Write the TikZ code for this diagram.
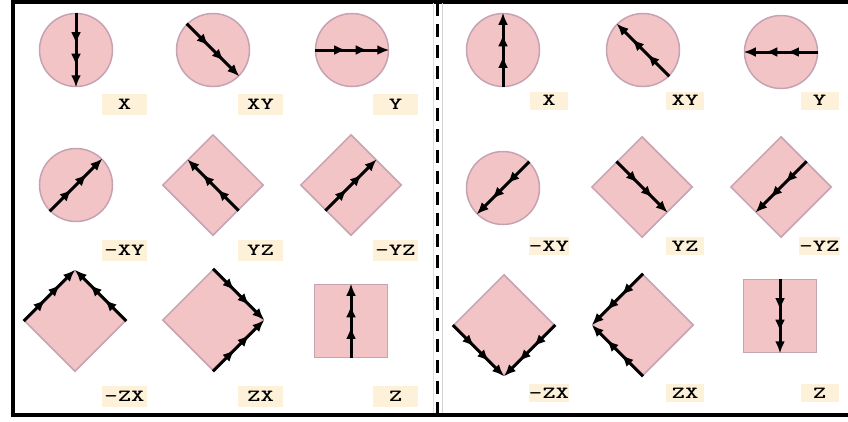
\documentclass[tikz,border=0pt]{standalone}
\usepackage{graphicx}
\usetikzlibrary{shapes.geometric,arrows.meta,decorations.markings}
\definecolor{shapefill}{RGB}{242,196,198}
\definecolor{shapeedge}{RGB}{198,162,178}
\definecolor{tagfill}{RGB}{253,241,217}
\newcommand\tagtext[1]{\scalebox{1.5}[1]{\ttfamily\bfseries #1}}

\begin{document}
\begin{tikzpicture}[x=1pt, y=-1pt]
  \tikzset{
    round_node/.style={circle, fill=shapefill, draw=shapeedge, line width=1.5pt, inner sep=0pt, minimum size=73pt},
    diamond_node/.style={diamond, fill=shapefill, draw=shapeedge, line width=1.5pt, inner sep=0pt, minimum width=101pt, minimum height=101pt},
    square_node/.style={rectangle, fill=shapefill, draw=shapeedge, line width=1.5pt, inner sep=0pt, minimum size=73pt},
    tag_node/.style={fill=tagfill, inner sep=0pt, minimum width=45pt, minimum height=21pt, font=\fontsize{17}{17}\selectfont},
    tag_small/.style={tag_node, minimum width=38pt, minimum height=18pt},
    flow/.style={line width=3pt, -{Latex[length=12pt,width=10pt]},
      decoration={markings,
        mark=at position 0.42 with {\arrow{Latex[length=12pt,width=10pt]}},
        mark=at position 0.71 with {\arrow{Latex[length=12pt,width=10pt]}}},
      postaction={decorate}}
  }

  \useasboundingbox (0,0) rectangle (848,421);

  % Marco y separador
  \draw[line width=4pt] (848,1.5) -- (12.5,1.5) -- (12.5,415) -- (848,415);
  \draw[pink!70, line width=0.8pt] (433,3) -- (433,413);
  \draw[gray!35, line width=1pt] (442,3) -- (442,413);
  \draw[line width=3pt, dash pattern=on 13pt off 8pt] (437,3) -- (437,413);

  % Panel izquierdo
  \node[round_node] (xL) at (76,50) {};
  \node[round_node] (xyL) at (213,50) {};
  \node[round_node] (yL) at (352,50) {};
  \node[round_node] (mxyL) at (76,185) {};
  \node[diamond_node] (yzL) at (213,185) {};
  \node[diamond_node] (myzL) at (351,185) {};
  \node[diamond_node] (mzxL) at (75,321) {};
  \node[diamond_node] (zxL) at (213,320) {};
  \node[square_node] (zL) at (351,321) {};

  \draw[flow] (xL.north) -- (xL.south);
  \draw[flow] (xyL.135) -- (xyL.-45);
  \draw[flow] (yL.west) -- (yL.east);
  \draw[flow] (mxyL.-135) -- (mxyL.45);
  \draw[flow] (yzL.-45) -- (yzL.135);
  \draw[flow] (myzL.-135) -- (myzL.45);
  \draw[flow] (mzxL.west) -- (mzxL.north);
  \draw[flow] (mzxL.east) -- (mzxL.north);
  \draw[flow] (zxL.north) -- (zxL.east);
  \draw[flow] (zxL.south) -- (zxL.east);
  \draw[flow] (zL.south) -- (zL.north);

  \node[tag_node] (xL_tag) at (124.5,104) {\tagtext{X}};
  \node[tag_node] (xyL_tag) at (260.5,104) {\tagtext{XY}};
  \node[tag_node] (yL_tag) at (395.5,104) {\tagtext{Y}};
  \node[tag_node] (mxyL_tag) at (124.5,250) {\tagtext{-XY}};
  \node[tag_node] (yzL_tag) at (260.5,250) {\tagtext{YZ}};
  \node[tag_node] (myzL_tag) at (395.5,250) {\tagtext{-YZ}};
  \node[tag_node] (mzxL_tag) at (124.5,396.5) {\tagtext{-ZX}};
  \node[tag_node] (zxL_tag) at (260.5,396.5) {\tagtext{ZX}};
  \node[tag_node] (zL_tag) at (395.5,396.5) {\tagtext{Z}};

  % Panel derecho (sentidos opuestos)
  \node[round_node] (xR) at (503,50) {};
  \node[round_node] (xyR) at (643,50) {};
  \node[round_node] (yR) at (781,52) {};
  \node[round_node] (mxyR) at (503,188) {};
  \node[diamond_node] (yzR) at (642,187) {};
  \node[diamond_node] (myzR) at (781,187) {};
  \node[diamond_node] (mzxR) at (504,325) {};
  \node[diamond_node] (zxR) at (643,325) {};
  \node[square_node] (zR) at (780,316) {};

  \draw[flow] (xR.south) -- (xR.north);
  \draw[flow] (xyR.-45) -- (xyR.135);
  \draw[flow] (yR.east) -- (yR.west);
  \draw[flow] (mxyR.45) -- (mxyR.-135);
  \draw[flow] (yzR.135) -- (yzR.-45);
  \draw[flow] (myzR.45) -- (myzR.-135);
  \draw[flow] (mzxR.west) -- (mzxR.south);
  \draw[flow] (mzxR.east) -- (mzxR.south);
  \draw[flow] (zxR.north) -- (zxR.west);
  \draw[flow] (zxR.south) -- (zxR.west);
  \draw[flow] (zR.north) -- (zR.south);

  \node[tag_small] (xR_tag) at (549,100.5) {\tagtext{X}};
  \node[tag_small] (xyR_tag) at (685,100.5) {\tagtext{XY}};
  \node[tag_small] (yR_tag) at (819.5,100.5) {\tagtext{Y}};
  \node[tag_small] (mxyR_tag) at (549,246) {\tagtext{-XY}};
  \node[tag_small] (yzR_tag) at (685,246) {\tagtext{YZ}};
  \node[tag_small] (myzR_tag) at (819.5,246) {\tagtext{-YZ}};
  \node[tag_small] (mzxR_tag) at (549,393) {\tagtext{-ZX}};
  \node[tag_small] (zxR_tag) at (685,393) {\tagtext{ZX}};
  \node[tag_small] (zR_tag) at (819.5,393) {\tagtext{Z}};
\end{tikzpicture}
\end{document}
